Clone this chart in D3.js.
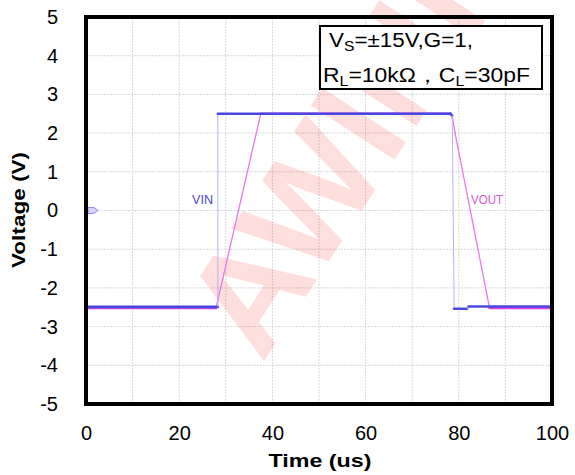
<!DOCTYPE html>
<html>
<head>
<meta charset="utf-8">
<script src="https://cdn.jsdelivr.net/npm/d3@7"></script>
<style>
  body { margin: 0; background: #fff; }
  text { font-family: "Liberation Sans", Arial, sans-serif; }
</style>
</head>
<body>
<svg id="chart" width="575" height="475"></svg>
<script>
// tick labels
const xTicks = [0, 20, 40, 60, 80, 100];
const yTicks = [-5, -4, -3, -2, -1, 0, 1, 2, 3, 4, 5];
const gridX = [10, 20, 30, 40, 50, 60, 70, 80, 90];
const gridY = [-4, -3, -2, -1, 0, 1, 2, 3, 4];

// VIN trace (us, V)
const vinTime = [0, 28.3, 28.3, 78.2, 78.6, 79.0, 81.8, 82.1, 100];
const vinVolt = [-2.49, -2.49, 2.5, 2.5, 2.45, -2.54, -2.54, -2.48, -2.48];

// VOUT trace (us, V)
const voutTime = [0, 27.9, 37.5, 78.2, 78.7, 79.2, 86.6, 100];
const voutVolt = [-2.52, -2.52, 2.5, 2.5, 2.35, 2.0, -2.52, -2.52];

const svg = d3.select("#chart");

const x = d3.scaleLinear().domain([0, 100]).range([86, 552]);
const y = d3.scaleLinear().domain([-5, 5]).range([404, 17]);

// scope grid, dotted
const grid = svg.append("g")
  .attr("stroke", "#d8d8d8")
  .attr("stroke-width", 1)
  .attr("stroke-dasharray", "2,1");

grid.selectAll(".gx")
  .data(gridX)
  .enter()
  .append("line")
  .attr("x1", d => x(d))
  .attr("x2", d => x(d))
  .attr("y1", y(5))
  .attr("y2", y(-5));

grid.selectAll(".gy")
  .data(gridY)
  .enter()
  .append("line")
  .attr("x1", x(0))
  .attr("x2", x(100))
  .attr("y1", d => y(d))
  .attr("y2", d => y(d));

// watermark
svg.append("text")
  .attr("transform", "translate(262,364) rotate(-57)")
  .style("font-size", "145px")
  .style("font-weight", "bold")
  .attr("fill", "#ff0000")
  .attr("fill-opacity", 0.13)
  .text("AWINIC");

/**
 * draws a trace segment by segment; fast edges are thin and pale
 */
function drawTrace(times, volts, flatColor, edgeColor, flatWidth, edgeWidth) {
  const pts = times.map((t, i) => [t, volts[i]]);
  const steep = d => {
    const dt = d[1][0] - d[0][0];
    const dv = Math.abs(d[1][1] - d[0][1]);
    return dt === 0 || dv / dt > 0.2;
  };
  svg.append("g")
    .selectAll("line")
    .data(d3.pairs(pts))
    .enter()
    .append("line")
    .attr("x1", d => x(d[0][0]))
    .attr("y1", d => y(d[0][1]))
    .attr("x2", d => x(d[1][0]))
    .attr("y2", d => y(d[1][1]))
    .attr("stroke-linecap", "round")
    .attr("stroke", d => (steep(d) ? edgeColor : flatColor))
    .attr("stroke-width", d => (steep(d) ? edgeWidth : flatWidth));
}

drawTrace(voutTime, voutVolt, "#e040e0", "#e878e8", 2.6, 1.3);
drawTrace(vinTime, vinVolt, "#4848e0", "#b4b4f4", 2.6, 1);

// ground marker
svg.append("path")
  .attr("d", d3.line()([[x(0) + 2, y(0) - 3], [x(0) + 8, y(0) - 3], [x(0) + 12, y(0)], [x(0) + 8, y(0) + 3], [x(0) + 2, y(0) + 3]]) + "Z")
  .attr("fill", "#d8d0f6")
  .attr("stroke", "#9a8ce6")
  .attr("stroke-width", 1);

// trace labels
svg.append("text")
  .attr("x", 192)
  .attr("y", 204)
  .attr("fill", "#4848d0")
  .style("font-size", "12px")
  .attr("textLength", 21)
  .attr("lengthAdjust", "spacingAndGlyphs")
  .text("VIN");

svg.append("text")
  .attr("x", 471)
  .attr("y", 204)
  .attr("fill", "#d855d8")
  .style("font-size", "12px")
  .attr("textLength", 32)
  .attr("lengthAdjust", "spacingAndGlyphs")
  .text("VOUT");

// axes
const xAxis = svg.append("g")
  .attr("transform", `translate(0,${y(-5)})`)
  .call(d3.axisBottom(x).tickValues(xTicks).tickFormat(d => String(d)).tickSize(0).tickPadding(22));
const yAxis = svg.append("g")
  .attr("transform", `translate(${x(0)},0)`)
  .call(d3.axisLeft(y).tickValues(yTicks).tickFormat(d => String(d)).tickSize(0).tickPadding(28));

[xAxis, yAxis].forEach(a => {
  a.select(".domain").remove();
  a.selectAll("text")
    .attr("fill", "#000")
    .style("font-size", "20px")
    .style("font-family", '"Liberation Sans", Arial, sans-serif');
});

// frame
svg.append("rect")
  .attr("x", x(0))
  .attr("y", y(5))
  .attr("width", x(100) - x(0))
  .attr("height", y(-5) - y(5))
  .attr("fill", "none")
  .attr("stroke", "#000")
  .attr("stroke-width", 4);

// axis titles
svg.append("text")
  .attr("x", 320)
  .attr("y", 467)
  .attr("text-anchor", "middle")
  .style("font-size", "19px")
  .style("font-weight", "bold")
  .attr("textLength", 103)
  .attr("lengthAdjust", "spacingAndGlyphs")
  .text("Time (us)");

svg.append("text")
  .attr("transform", "translate(25,210) rotate(-90)")
  .attr("text-anchor", "middle")
  .style("font-size", "19px")
  .style("font-weight", "bold")
  .attr("textLength", 116)
  .attr("lengthAdjust", "spacingAndGlyphs")
  .text("Voltage (V)");

// conditions box
svg.append("rect")
  .attr("x", 320)
  .attr("y", 26)
  .attr("width", 222)
  .attr("height", 63)
  .attr("fill", "#fff")
  .attr("stroke", "#000")
  .attr("stroke-width", 2);

const line1 = svg.append("text")
  .attr("x", 329)
  .attr("y", 47)
  .style("font-size", "20px")
  .attr("textLength", 144)
  .attr("lengthAdjust", "spacingAndGlyphs");
line1.append("tspan").text("V");
line1.append("tspan").attr("dy", 4).style("font-size", "14px").text("S");
line1.append("tspan").attr("dy", -4).text("=±15V,G=1,");

const line2 = svg.append("text")
  .attr("x", 323)
  .attr("y", 82)
  .style("font-size", "20px")
  .attr("textLength", 207)
  .attr("lengthAdjust", "spacingAndGlyphs");
line2.append("tspan").text("R");
line2.append("tspan").attr("dy", 4).style("font-size", "14px").text("L");
line2.append("tspan").attr("dy", -4).text("=10kΩ，C");
line2.append("tspan").attr("dy", 4).style("font-size", "14px").text("L");
line2.append("tspan").attr("dy", -4).text("=30pF");
</script>
</body>
</html>
